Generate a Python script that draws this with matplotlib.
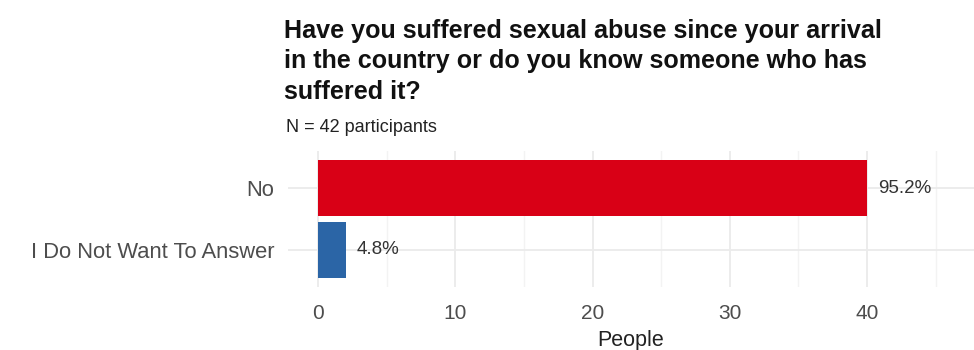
import matplotlib
matplotlib.use("Agg")
import matplotlib.pyplot as plt
from matplotlib.ticker import MultipleLocator

# ------------------- Data -------------------
categories = ["No", "I Do Not Want To Answer"]
people = [40, 2]
percent_labels = ["95.2%", "4.8%"]
bar_colors = ["#d90016", "#2b65a6"]

title = ("Have you suffered sexual abuse since your arrival\n"
         "in the country or do you know someone who has\n"
         "suffered it?")
subtitle = "N = 42 participants"

plt.rcParams["font.family"] = ["Liberation Sans", "DejaVu Sans"]

fig = plt.figure(figsize=(9.74, 3.5), dpi=100)
ax = fig.add_axes([288 / 974, 1 - 287 / 350, 1 - 288 / 974, (287 - 151) / 350])

# top category first
ypos = list(range(len(categories)))[::-1]
ax.barh(ypos, people, height=0.9, color=bar_colors, zorder=2)
for y, v, lab in zip(ypos, people, percent_labels):
    ax.text(v + 0.8, y, lab, va="center", ha="left", fontsize=13.5, color="#333333")

ax.set_yticks(ypos)
ax.set_yticklabels(categories, fontsize=15.8, color="#4d4d4d")
ax.set_xlim(-2.2, 47.8)
ax.set_ylim(-0.6, 1.6)
ax.xaxis.set_major_locator(MultipleLocator(10))
ax.xaxis.set_minor_locator(MultipleLocator(5))
ax.tick_params(axis="x", labelsize=15, labelcolor="#4d4d4d", length=0, pad=12)
ax.tick_params(axis="y", length=0, pad=10)
ax.tick_params(which="minor", length=0)
ax.set_xlabel("People", fontsize=15.5, color="#222222", labelpad=5)

ax.grid(True, which="major", color="#ebebeb", linewidth=1.3, zorder=0)
ax.grid(True, which="minor", axis="x", color="#f3f3f3", linewidth=1.0, zorder=0)
ax.set_axisbelow(True)
for s in ax.spines.values():
    s.set_visible(False)

fig.text(284 / 974, 1 - 19 / 350, title, ha="left", va="top", fontsize=18.1,
         fontweight="bold", color="#111111", linespacing=1.34)
fig.text(286 / 974, 1 - 119 / 350, subtitle, ha="left", va="top", fontsize=13,
         color="#222222")

fig.savefig("out.png", dpi=100)
